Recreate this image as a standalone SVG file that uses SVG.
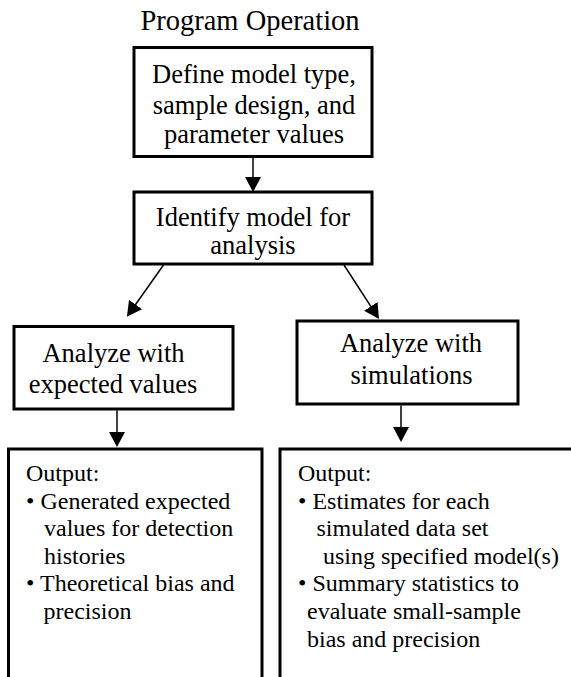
<svg xmlns="http://www.w3.org/2000/svg" width="571" height="677" viewBox="0 0 571 677">
<style>
text{font-family:"Liberation Serif","Times New Roman",serif;fill:#000}
.t{font-size:28.5px}
.b{font-size:26.5px;text-anchor:middle}
.o{font-size:24px}
.box{fill:#fff;stroke:#000;stroke-width:3}
.open{fill:none;stroke:#000;stroke-width:3}
.c{stroke:#000;stroke-width:1.5;fill:none;marker-end:url(#ah)}
</style>
<defs>
<marker id="ah" markerUnits="userSpaceOnUse" markerWidth="15" markerHeight="16" refX="11" refY="8" orient="auto">
<path d="M0,0 L15,8 L0,16 Z" fill="#000"/>
</marker>
</defs>
<rect width="571" height="677" fill="#fff"/>
<text class="t" x="250" y="30" text-anchor="middle">Program Operation</text>
<g id="define">
<rect class="box" x="134" y="47.5" width="238" height="109"/>
<text class="b" x="254" y="83">Define model type,</text>
<text class="b" x="254" y="114">sample design, and</text>
<text class="b" x="254" y="143">parameter values</text>
</g>
<g id="identify">
<rect class="box" x="134" y="192" width="238" height="72"/>
<text class="b" x="253" y="226">Identify model for</text>
<text class="b" x="253" y="254">analysis</text>
</g>
<g id="expected">
<rect class="box" x="14" y="326.5" width="219" height="82.5"/>
<text class="b" x="113.5" y="361.5">Analyze with</text>
<text class="b" x="113" y="393">expected values</text>
</g>
<g id="simulations">
<rect class="box" x="297" y="321" width="221" height="83"/>
<text class="b" x="411" y="352">Analyze with</text>
<text class="b" x="411.5" y="384">simulations</text>
</g>
<g id="output-expected">
<path class="open" d="M8.5,690 V449 H262 V690"/>
<text class="o" x="26" y="481">Output:</text>
<text class="o" x="26" y="508.6">• Generated expected</text>
<text class="o" x="44" y="536.2">values for detection</text>
<text class="o" x="44" y="563.8">histories</text>
<text class="o" x="26" y="591.4">• Theoretical bias and</text>
<text class="o" x="43.5" y="619">precision</text>
</g>
<g id="output-simulations">
<path class="open" d="M280,690 V449 H590"/>
<text class="o" x="298" y="481">Output:</text>
<text class="o" x="298" y="508.6">• Estimates for each</text>
<text class="o" x="316.5" y="536.2">simulated data set</text>
<text class="o" x="323" y="563.8">using specified model(s)</text>
<text class="o" x="298" y="591.4">• Summary statistics to</text>
<text class="o" x="307" y="619">evaluate small-sample</text>
<text class="o" x="307" y="646.6">bias and precision</text>
</g>
<g id="connectors">
<line class="c" x1="253" y1="157" x2="253" y2="188"/>
<line class="c" x1="163.5" y1="265" x2="129.2" y2="313.5"/>
<line class="c" x1="344" y1="265" x2="376.8" y2="315.6"/>
<line class="c" x1="117" y1="410.5" x2="117" y2="443"/>
<line class="c" x1="401" y1="405.5" x2="401" y2="438"/>
</g>
</svg>
